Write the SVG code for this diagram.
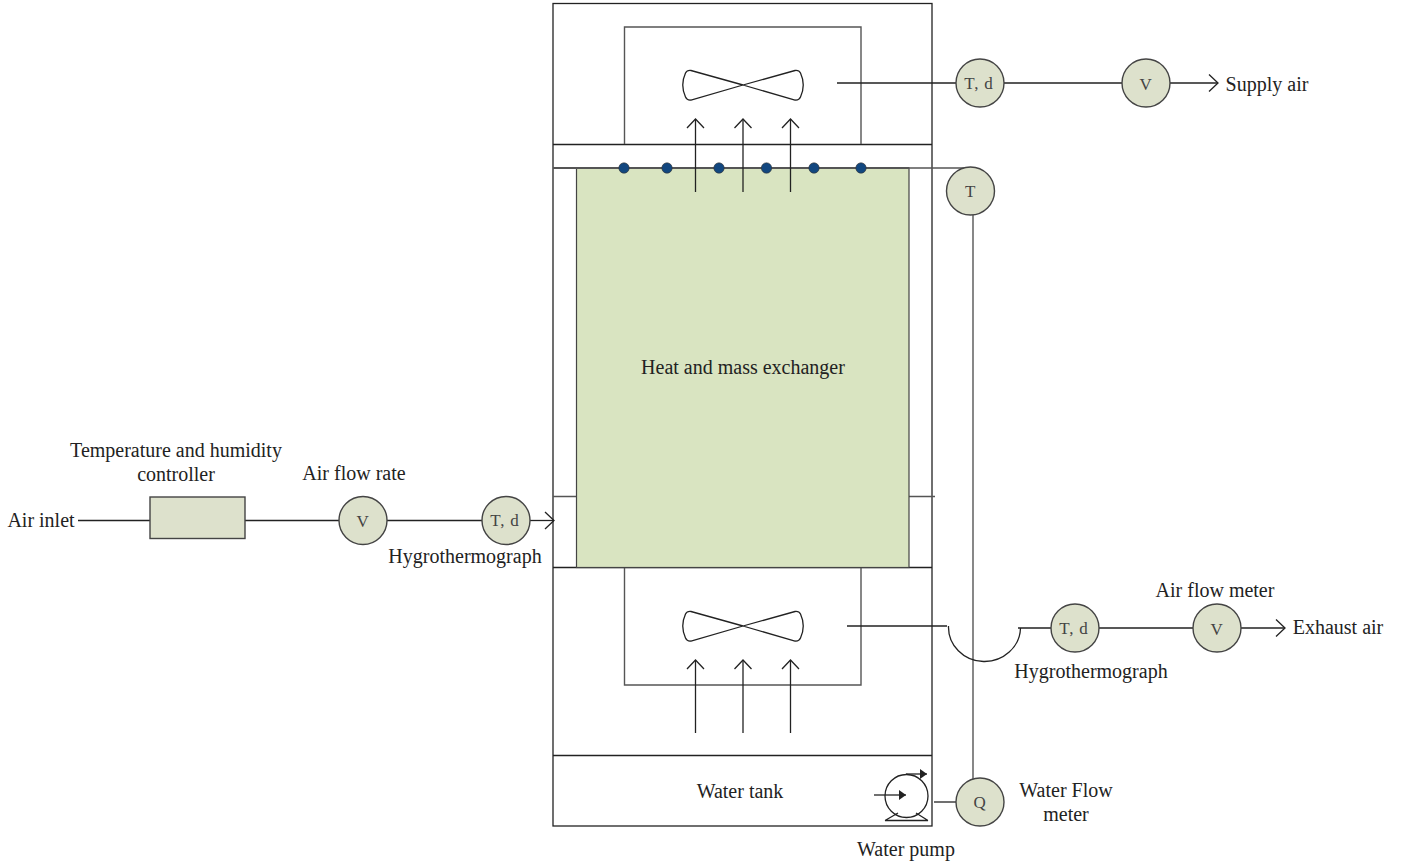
<svg xmlns="http://www.w3.org/2000/svg" width="1403" height="865" viewBox="0 0 1403 865">
<style>
.l{fill:none;stroke:#222;stroke-width:1.3}
.g{fill:none;stroke:#555;stroke-width:1.4}
.s{fill:#dde1cc;stroke:#444;stroke-width:1.4}
.d{fill:#12477f;stroke:#333;stroke-width:.6}
text{font-family:"Liberation Serif","Times New Roman",serif;font-size:20px;fill:#222;text-anchor:middle}
.m{font-size:17px;fill:#444;letter-spacing:.8px}
</style>
<defs>
<marker id="o" viewBox="0 0 20 20" refX="18" refY="10" markerWidth="20" markerHeight="20" markerUnits="userSpaceOnUse" orient="auto"><path d="M9 1.500L18 10L9 18.500" fill="none" stroke="#222" stroke-width="1.300"/></marker>
<marker id="f" viewBox="0 0 8 10" refX="7" refY="5" markerWidth="8" markerHeight="10" markerUnits="userSpaceOnUse" orient="auto"><path d="M0 0L7 5L0 10Z" fill="#222"/></marker>
<path id="fan" d="M743 85L691 70.500Q687 70 685.500 73Q680 85 685.500 97Q687 100.500 691 100L743 85L795 70.500Q799 70 800.500 73Q806 85 800.500 97Q799 100.500 795 100Z" fill="none" stroke="#222" stroke-width="1.300"/>
</defs>
<g id="cabinet">
<rect class="l" x="553" y="3.500" width="379" height="822.500"/>
<path class="l" d="M553 144.500H932M553 567.500H932M553 755.500H932"/>
<path class="g" d="M624.500 144V27H861V144"/>
<path class="g" d="M624.500 568V685H861V568"/>
<path class="g" d="M553 496.500H577M909 496.500H935"/>
</g>
<g id="exchanger">
<rect x="576.500" y="168" width="332.500" height="399.500" fill="#d9e4c1" stroke="#444" stroke-width="1.200"/>
<text x="743" y="374">Heat and mass exchanger</text>
</g>
<g id="connectors">
<path class="g" d="M553 168H909" style="stroke-width:1.800"/>
<path class="g" d="M909 168H972"/>
<path class="g" d="M973 215V779"/>
<path class="l" d="M837 83H956M1004 83H1122"/>
<path class="l" d="M1170 83H1218" marker-end="url(#o)"/>
<path class="l" d="M695.500 192V119" marker-end="url(#o)"/>
<path class="l" d="M743 192V119" marker-end="url(#o)"/>
<path class="l" d="M790.500 192V119" marker-end="url(#o)"/>
<path class="l" d="M695.500 733V660" marker-end="url(#o)"/>
<path class="l" d="M743 733V660" marker-end="url(#o)"/>
<path class="l" d="M790.500 733V660" marker-end="url(#o)"/>
<path class="l" d="M78 520.500H150M245 520.500H339M387 520.500H482"/>
<path class="l" d="M530 520.500H554" marker-end="url(#o)"/>
<path class="l" d="M847 626H947"/>
<path class="l" d="M948.500 626A36 34.500 0 0 0 1020.500 628"/>
<path class="l" d="M1018 628H1051M1099 628H1193"/>
<path class="l" d="M1241 628H1285" marker-end="url(#o)"/>
<path class="l" d="M934 802H956"/>
</g>
<g id="fan-top"><use href="#fan"/></g>
<g id="fan-bottom"><use href="#fan" y="541"/></g>
<g id="nozzles">
<circle class="d" cx="624" cy="168" r="5.200"/>
<circle class="d" cx="667" cy="168" r="5.200"/>
<circle class="d" cx="719" cy="168" r="5.200"/>
<circle class="d" cx="766.500" cy="168" r="5.200"/>
<circle class="d" cx="814" cy="168" r="5.200"/>
<circle class="d" cx="861" cy="168" r="5.200"/>
</g>
<g id="controller"><rect class="s" x="150" y="497" width="95" height="41.500"/></g>
<g id="v-inlet"><circle class="s" cx="363" cy="520.500" r="24"/><text class="m" x="363" y="527">V</text></g>
<g id="td-inlet"><circle class="s" cx="506" cy="520.500" r="24"/><text class="m" x="505" y="526">T, d</text></g>
<g id="td-supply"><circle class="s" cx="980" cy="83" r="24"/><text class="m" x="979" y="89">T, d</text></g>
<g id="v-supply"><circle class="s" cx="1146" cy="83" r="24"/><text class="m" x="1146" y="90">V</text></g>
<g id="t-water"><circle class="s" cx="970.500" cy="191" r="24"/><text class="m" x="970.500" y="197">T</text></g>
<g id="td-exhaust"><circle class="s" cx="1075" cy="628" r="24"/><text class="m" x="1074" y="634">T, d</text></g>
<g id="v-exhaust"><circle class="s" cx="1217" cy="628" r="24"/><text class="m" x="1217" y="635">V</text></g>
<g id="q-water"><circle class="s" cx="980" cy="802" r="24"/><text class="m" x="980" y="808">Q</text></g>
<g id="pump">
<circle class="l" cx="906.500" cy="796" r="21.500"/>
<path class="l" d="M906 774H927" marker-end="url(#f)"/>
<path class="l" d="M874 795H906" marker-end="url(#f)"/>
<path class="l" d="M885 820.500H928M885 820.500L898 813M928 820.500L916 813"/>
</g>
<g id="labels">
<text x="41" y="526.500">Air inlet</text>
<text x="176" y="457">Temperature and humidity</text>
<text x="176" y="481">controller</text>
<text x="354" y="479.500">Air flow rate</text>
<text x="465" y="563">Hygrothermograph</text>
<text x="1267" y="91">Supply air</text>
<text x="1215" y="597">Air flow meter</text>
<text x="1338" y="633.500">Exhaust air</text>
<text x="1091" y="678">Hygrothermograph</text>
<text x="740" y="798">Water tank</text>
<text x="1066" y="797">Water Flow</text>
<text x="1066" y="820.500">meter</text>
<text x="906" y="856">Water pump</text>
</g>
</svg>
